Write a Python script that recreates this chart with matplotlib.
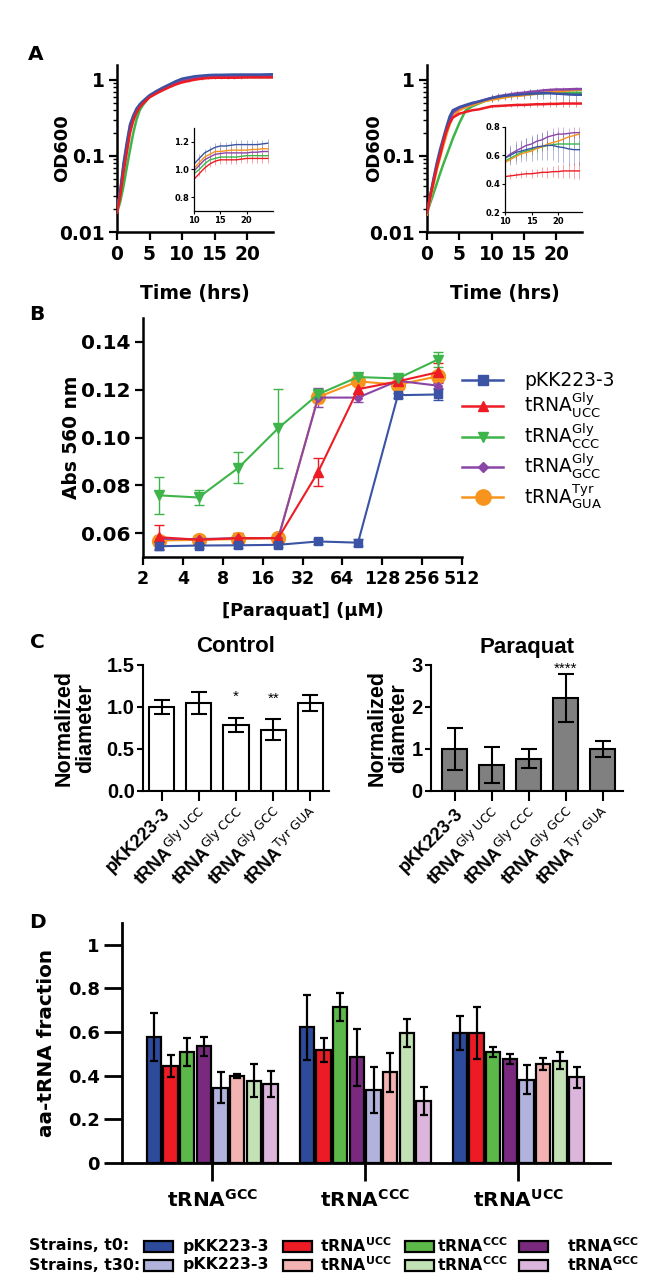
import numpy as np
import matplotlib
matplotlib.use("Agg")
import matplotlib.pyplot as plt
from matplotlib.colors import to_rgba
from matplotlib.lines import Line2D
from matplotlib.patches import Rectangle
from matplotlib.ticker import LogLocator, NullFormatter

plt.rcParams["font.family"] = ["DejaVu Sans"]
plt.rcParams["mathtext.fontset"] = "custom"
plt.rcParams["mathtext.rm"] = "DejaVu Sans"
plt.rcParams["mathtext.bf"] = "DejaVu Sans:bold"
plt.rcParams["mathtext.it"] = "DejaVu Sans:italic"

#*********************** data : panel A (growth curves) ***********************
hours = [0, 0.5, 1, 1.5, 2, 2.5, 3, 3.5, 4, 5, 6, 7, 8, 9, 10, 11, 12, 13, 14, 15,
         16, 17, 18, 19, 20, 21, 22, 23, 24]
strain_colors = ["#3a53a4", "#ed1c24", "#3db54a", "#8b45a6", "#f7941d"]

# left panel: pKK223-3, UCC, CCC, GCC, Tyr GUA
odL_pkk = [0.019, 0.035, 0.08, 0.15, 0.26, 0.34, 0.42, 0.48, 0.53, 0.63, 0.71, 0.79, 0.87, 0.96, 1.04,
           1.08, 1.12, 1.14, 1.16, 1.17, 1.17, 1.175, 1.18, 1.18, 1.18, 1.18, 1.18, 1.185, 1.19]
odL_ucc = [0.018, 0.03, 0.06, 0.11, 0.2, 0.29, 0.37, 0.44, 0.49, 0.59, 0.66, 0.73, 0.8, 0.87, 0.93,
           0.97, 1.01, 1.04, 1.06, 1.07, 1.07, 1.07, 1.07, 1.075, 1.08, 1.08, 1.08, 1.08, 1.08]
odL_ccc = [0.018, 0.025, 0.04, 0.07, 0.12, 0.2, 0.3, 0.4, 0.47, 0.6, 0.68, 0.76, 0.83, 0.9, 0.97,
           1.0, 1.04, 1.07, 1.08, 1.09, 1.09, 1.09, 1.09, 1.095, 1.1, 1.1, 1.1, 1.1, 1.1]
odL_gcc = [0.019, 0.033, 0.07, 0.13, 0.23, 0.32, 0.4, 0.46, 0.51, 0.61, 0.69, 0.77, 0.84, 0.92, 0.99,
           1.03, 1.07, 1.09, 1.11, 1.115, 1.12, 1.12, 1.12, 1.12, 1.12, 1.125, 1.125, 1.13, 1.13]
odL_gua = [0.019, 0.034, 0.075, 0.14, 0.25, 0.33, 0.41, 0.47, 0.52, 0.62, 0.7, 0.78, 0.86, 0.94, 1.01,
           1.05, 1.09, 1.11, 1.13, 1.13, 1.135, 1.14, 1.14, 1.14, 1.14, 1.145, 1.145, 1.15, 1.15]
# sd from 10 h to 24 h
sdL_pkk = [0.03, 0.03, 0.03, 0.03, 0.03, 0.03, 0.03, 0.03, 0.03, 0.03, 0.03, 0.03, 0.03, 0.03, 0.03]
sdL_ucc = [0.02, 0.02, 0.025, 0.025, 0.03, 0.03, 0.03, 0.03, 0.03, 0.03, 0.03, 0.03, 0.03, 0.03, 0.03]
sdL_ccc = [0.02, 0.02, 0.02, 0.025, 0.025, 0.025, 0.025, 0.025, 0.025, 0.025, 0.025, 0.025, 0.025, 0.025, 0.025]
sdL_gcc = [0.03, 0.03, 0.03, 0.03, 0.03, 0.03, 0.03, 0.03, 0.03, 0.03, 0.03, 0.03, 0.03, 0.03, 0.03]
sdL_gua = [0.03, 0.03, 0.03, 0.03, 0.03, 0.03, 0.03, 0.03, 0.03, 0.03, 0.03, 0.03, 0.03, 0.03, 0.03]

# right panel
odR_pkk = [0.018, 0.03, 0.05, 0.08, 0.12, 0.17, 0.24, 0.33, 0.4, 0.44, 0.47, 0.5, 0.52, 0.55, 0.58,
           0.6, 0.62, 0.63, 0.64, 0.65, 0.66, 0.665, 0.67, 0.67, 0.66, 0.655, 0.645, 0.64, 0.64]
odR_ucc = [0.018, 0.03, 0.045, 0.07, 0.1, 0.15, 0.21, 0.27, 0.32, 0.36, 0.38, 0.4, 0.41, 0.43, 0.45,
           0.455, 0.46, 0.465, 0.47, 0.47, 0.475, 0.48, 0.48, 0.485, 0.485, 0.49, 0.49, 0.49, 0.49]
odR_ccc = [0.018, 0.024, 0.032, 0.043, 0.058, 0.077, 0.1, 0.13, 0.17, 0.27, 0.4, 0.45, 0.49, 0.53, 0.56,
           0.58, 0.6, 0.62, 0.63, 0.64, 0.65, 0.66, 0.67, 0.675, 0.68, 0.68, 0.68, 0.68, 0.68]
odR_gcc = [0.018, 0.03, 0.048, 0.075, 0.11, 0.16, 0.22, 0.3, 0.37, 0.43, 0.46, 0.49, 0.52, 0.55, 0.58,
           0.61, 0.63, 0.65, 0.67, 0.68, 0.7, 0.71, 0.73, 0.74, 0.75, 0.75, 0.755, 0.76, 0.76]
odR_gua = [0.017, 0.027, 0.042, 0.065, 0.095, 0.135, 0.19, 0.26, 0.33, 0.4, 0.44, 0.47, 0.5, 0.53, 0.55,
           0.57, 0.59, 0.61, 0.62, 0.63, 0.65, 0.66, 0.68, 0.69, 0.7, 0.715, 0.73, 0.74, 0.75]
sdR_pkk = [0.07, 0.07, 0.08, 0.08, 0.08, 0.09, 0.09, 0.1, 0.1, 0.1, 0.11, 0.11, 0.11, 0.11, 0.11]
sdR_ucc = [0.02, 0.02, 0.02, 0.025, 0.025, 0.03, 0.03, 0.035, 0.04, 0.04, 0.045, 0.05, 0.05, 0.055, 0.06]
sdR_ccc = [0.03, 0.03, 0.03, 0.03, 0.03, 0.03, 0.03, 0.03, 0.03, 0.03, 0.03, 0.03, 0.03, 0.03, 0.03]
sdR_gcc = [0.05, 0.05, 0.05, 0.05, 0.05, 0.05, 0.05, 0.05, 0.05, 0.05, 0.05, 0.05, 0.04, 0.04, 0.04]
sdR_gua = [0.03, 0.03, 0.03, 0.03, 0.03, 0.03, 0.03, 0.03, 0.03, 0.03, 0.03, 0.03, 0.03, 0.03, 0.03]

#*********************** data : panel B (paraquat) ***********************
paraquat_uM = [2.625, 5.25, 10.5, 21, 42, 84, 168, 336]
legend_B = ["pKK223-3", r"tRNA$^{\mathrm{Gly}}_{\mathrm{UCC}}$", r"tRNA$^{\mathrm{Gly}}_{\mathrm{CCC}}$",
            r"tRNA$^{\mathrm{Gly}}_{\mathrm{GCC}}$", r"tRNA$^{\mathrm{Tyr}}_{\mathrm{GUA}}$"]
abs_pkk = [0.0545, 0.0548, 0.0549, 0.0551, 0.0565, 0.0560, 0.1177, 0.1180]
abs_ucc = [0.0583, 0.0572, 0.0579, 0.0579, 0.0856, 0.1202, 0.1235, 0.1273]
abs_ccc = [0.0758, 0.0749, 0.0873, 0.1039, 0.1181, 0.1253, 0.1247, 0.1326]
abs_gcc = [0.0576, 0.0575, 0.0579, 0.0579, 0.1167, 0.1167, 0.1237, 0.1217]
abs_gua = [0.0569, 0.0572, 0.0575, 0.0579, 0.1169, 0.1235, 0.1221, 0.1256]
abs_sd_pkk = [0.0015, 0.0012, 0.001, 0.001, 0.001, 0.0015, 0.001, 0.0025]
abs_sd_ucc = [0.005, 0.001, 0.002, 0.001, 0.0058, 0.003, 0.002, 0.004]
abs_sd_ccc = [0.0077, 0.003, 0.0065, 0.0165, 0.002, 0.001, 0.001, 0.003]
abs_sd_gcc = [0.001, 0.001, 0.001, 0.001, 0.004, 0.002, 0.001, 0.001]
abs_sd_gua = [0.002, 0.001, 0.0025, 0.001, 0.0025, 0.0015, 0.002, 0.002]
markers_B = ["s", "^", "v", "D", "o"]
msize_B = [6, 6.5, 6.5, 4, 10]

#*********************** data : panel C (colony diameter) ***********************
c_labels = ["pKK223-3", r"tRNA$^{\mathrm{Gly\ UCC}}$", r"tRNA$^{\mathrm{Gly\ CCC}}$",
            r"tRNA$^{\mathrm{Gly\ GCC}}$", r"tRNA$^{\mathrm{Tyr\ GUA}}$"]
ctrl_mean = [1.0, 1.05, 0.79, 0.73, 1.05]
ctrl_sd = [0.08, 0.13, 0.085, 0.125, 0.095]
ctrl_stars = ["", "", "*", "**", ""]
para_mean = [1.0, 0.62, 0.77, 2.22, 1.0]
para_sd = [0.5, 0.43, 0.22, 0.57, 0.2]
para_stars = ["", "", "", "****", ""]

#*********************** data : panel D (aa-tRNA fraction) ***********************
d_groups = [r"tRNA$^{\mathregular{GCC}}$", r"tRNA$^{\mathregular{CCC}}$", r"tRNA$^{\mathregular{UCC}}$"]
d_strains = ["pKK223-3", r"tRNA$^{\mathregular{UCC}}$", r"tRNA$^{\mathregular{CCC}}$", r"tRNA$^{\mathregular{GCC}}$"]
t0_colors = ["#2e4b9b", "#ed1c24", "#5cb848", "#7a2a7e"]
t30_colors = ["#b1b3dc", "#f4b3b3", "#c2e1b5", "#dbb5db"]
t0_pkk = [0.576, 0.622, 0.596]
t0_ucc = [0.443, 0.52, 0.596]
t0_ccc = [0.509, 0.714, 0.509]
t0_gcc = [0.535, 0.484, 0.477]
t30_pkk = [0.346, 0.336, 0.382]
t30_ucc = [0.40, 0.415, 0.455]
t30_ccc = [0.378, 0.596, 0.469]
t30_gcc = [0.362, 0.285, 0.392]
t0_pkk_sd = [0.11, 0.15, 0.077]
t0_ucc_sd = [0.05, 0.055, 0.12]
t0_ccc_sd = [0.065, 0.065, 0.023]
t0_gcc_sd = [0.043, 0.13, 0.022]
t30_pkk_sd = [0.07, 0.105, 0.067]
t30_ucc_sd = [0.01, 0.088, 0.027]
t30_ccc_sd = [0.075, 0.065, 0.039]
t30_gcc_sd = [0.06, 0.065, 0.048]

#*********************** figure ***********************
W, H = 650, 1281
fig = plt.figure(figsize=(W / 100, H / 100), dpi=100)


def px_rect(x0, y0, x1, y1):
    # pixel box (origin top left) -> figure fraction rect
    return [x0 / W, 1 - y1 / H, (x1 - x0) / W, (y1 - y0) / H]


def clean(ax, lw):
    for s in ["top", "right"]:
        ax.spines[s].set_visible(False)
    for s in ["left", "bottom"]:
        ax.spines[s].set_linewidth(lw)


def growth(main_box, inset_box, ods, sds, ilim, iticks, ixmax, lab_x):
    late = hours.index(10)
    order = [2, 4, 3, 0, 1]
    ax = fig.add_axes(px_rect(*main_box))
    for i in order:
        ax.plot(hours, ods[i], color=strain_colors[i], lw=1.8, zorder=3)
        ax.errorbar(hours[late:], ods[i][late:], yerr=sds[i], fmt="none",
                    ecolor=to_rgba(strain_colors[i], 0.5), elinewidth=0.7, zorder=2)
    ax.set_yscale("log")
    ax.set_ylim(0.01, 1.575)
    ax.set_xlim(0, 24)
    ax.set_yticks([0.01, 0.1, 1])
    ax.set_yticklabels(["0.01", "0.1", "1"])
    ax.yaxis.set_minor_locator(LogLocator(base=10, subs=np.arange(2, 10)))
    ax.yaxis.set_minor_formatter(NullFormatter())
    ax.set_xticks([0, 5, 10, 15, 20])
    clean(ax, 1.8)
    ax.tick_params(which="major", length=6, width=1.6, labelsize=13.4, pad=3)
    ax.tick_params(which="minor", length=3, width=1.0)
    for t in ax.get_xticklabels() + ax.get_yticklabels():
        t.set_fontweight("bold")
    ax.set_ylabel("OD600", fontsize=13, fontweight="bold")
    ax.yaxis.set_label_coords(lab_x, 0.5)
    ax.set_xlabel("Time (hrs)", fontsize=13.6, fontweight="bold")
    ax.xaxis.set_label_coords(0.5, -0.31)

    ins = fig.add_axes(px_rect(*inset_box))
    ins.patch.set_alpha(0)
    for i in order:
        ins.errorbar(hours[late:], ods[i][late:], yerr=sds[i], color=strain_colors[i], lw=1.0,
                     ecolor=to_rgba(strain_colors[i], 0.45), elinewidth=0.6)
    ins.set_xlim(10, ixmax)
    ins.set_ylim(*ilim)
    ins.set_yticks(iticks)
    ins.set_yticklabels(["%.1f" % v for v in iticks])
    ins.set_xticks([10, 15, 20])
    clean(ins, 0.9)
    ins.tick_params(length=2, width=0.8, labelsize=6, pad=1.5)
    for t in ins.get_xticklabels() + ins.get_yticklabels():
        t.set_fontweight("bold")


growth((117, 65, 273, 232), (194, 128, 273, 211),
       [odL_pkk, odL_ucc, odL_ccc, odL_gcc, odL_gua], [sdL_pkk, sdL_ucc, sdL_ccc, sdL_gcc, sdL_gua],
       (0.7, 1.3), [0.8, 1.0, 1.2], 25, -0.295)
growth((427, 65, 582, 232), (505, 127, 582, 212),
       [odR_pkk, odR_ucc, odR_ccc, odR_gcc, odR_gua], [sdR_pkk, sdR_ucc, sdR_ccc, sdR_gcc, sdR_gua],
       (0.2, 0.8), [0.2, 0.4, 0.6, 0.8], 24.5, -0.284)

#*********************** panel B ***********************
axB = fig.add_axes(px_rect(143, 318, 462, 557))
abs_all = [abs_pkk, abs_ucc, abs_ccc, abs_gcc, abs_gua]
abs_sd_all = [abs_sd_pkk, abs_sd_ucc, abs_sd_ccc, abs_sd_gcc, abs_sd_gua]
handles = []
for i in [4, 3, 1, 2, 0]:
    axB.errorbar(paraquat_uM, abs_all[i], yerr=abs_sd_all[i], color=strain_colors[i], lw=1.5,
                 marker=markers_B[i], ms=msize_B[i], capsize=3.5, elinewidth=1, capthick=1)
for i in range(5):
    handles.append(Line2D([], [], color=strain_colors[i], lw=1.8, marker=markers_B[i], ms=msize_B[i] + 1))
axB.set_xscale("log", base=2)
axB.set_xlim(2, 512)
axB.set_ylim(0.05, 0.15)
axB.set_xticks([2, 4, 8, 16, 32, 64, 128, 256, 512])
axB.set_xticklabels(["2", "4", "8", "16", "32", "64", "128", "256", "512"])
axB.xaxis.set_minor_locator(plt.NullLocator())
axB.set_yticks([0.06, 0.08, 0.10, 0.12, 0.14])
axB.set_yticklabels(["0.06", "0.08", "0.10", "0.12", "0.14"])
clean(axB, 1.8)
axB.tick_params(length=6, width=1.6, pad=3)
axB.tick_params(axis="y", labelsize=14.5)
axB.tick_params(axis="x", labelsize=12.5)
for t in axB.get_xticklabels() + axB.get_yticklabels():
    t.set_fontweight("bold")
axB.set_ylabel("Abs 560 nm", fontsize=13.4, fontweight="bold")
axB.yaxis.set_label_coords(-0.194, 0.5)
axB.set_xlabel("[Paraquat] (µM)", fontsize=13, fontweight="bold")
axB.xaxis.set_label_coords(0.5, -0.19)
fig.legend(handles, legend_B, loc="center left", bbox_to_anchor=(462 / W, 1 - 441 / H),
           frameon=False, fontsize=13.5, handlelength=2.2, handletextpad=1.1,
           labelspacing=0.05, borderpad=0, borderaxespad=0)

#*********************** panel C ***********************
def diameter(box, means, sds, stars, star_off, color, ymax, yticks, ylabels, title, xlim, lab_x):
    ax = fig.add_axes(px_rect(*box))
    xs = np.arange(len(means))
    ax.bar(xs, means, width=0.68, color=color, edgecolor="black", lw=1.5, zorder=2)
    ax.errorbar(xs, means, yerr=sds, fmt="none", ecolor="black", elinewidth=1.5,
                capsize=5.5, capthick=1.5, zorder=3)
    for x, m, s, st in zip(xs, means, sds, stars):
        if st:
            ax.text(x, m + s + star_off, st, ha="center", va="baseline", fontsize=11,
                    family="Liberation Sans")
    ax.set_xlim(*xlim)
    ax.set_ylim(0, ymax)
    ax.set_yticks(yticks)
    ax.set_yticklabels(ylabels, family="Liberation Sans", fontweight="bold", fontsize=14.5)
    ax.set_xticks(xs)
    ax.set_xticklabels(c_labels, rotation=45, ha="right", va="top", rotation_mode="anchor",
                       family="Liberation Sans", fontweight="bold", fontsize=13)
    clean(ax, 1.5)
    ax.tick_params(axis="x", length=7, width=1.5, pad=3)
    ax.tick_params(axis="y", length=4, width=1.5, pad=2)
    ax.set_title(title, family="Liberation Sans", fontweight="bold", fontsize=16, pad=9)
    ax.set_ylabel("Normalized\ndiameter", family="Liberation Sans", fontweight="bold",
                  fontsize=15.5, linespacing=1.0)
    ax.yaxis.set_label_coords(lab_x, 0.5)


diameter((143, 665, 329, 791), ctrl_mean, ctrl_sd, ctrl_stars, 0.2, "white", 1.5,
         [0, 0.5, 1.0, 1.5], ["0.0", "0.5", "1.0", "1.5"], "Control", (-0.5, 4.5), -0.253)
diameter((431, 665, 623, 791), para_mean, para_sd, para_stars, 0.03, "#808080", 3,
         [0, 1, 2, 3], ["0", "1", "2", "3"], "Paraquat", (-0.635, 4.55), -0.115)

#*********************** panel D ***********************
axD = fig.add_axes(px_rect(122, 923, 610, 1163))
t0_all = [t0_pkk, t0_ucc, t0_ccc, t0_gcc]
t30_all = [t30_pkk, t30_ucc, t30_ccc, t30_gcc]
t0_sd_all = [t0_pkk_sd, t0_ucc_sd, t0_ccc_sd, t0_gcc_sd]
t30_sd_all = [t30_pkk_sd, t30_ucc_sd, t30_ccc_sd, t30_gcc_sd]
bar_vals = t0_all + t30_all
bar_sds = t0_sd_all + t30_sd_all
bar_cols = t0_colors + t30_colors
gx = np.arange(len(d_groups))
slot = 0.109
for k in range(8):
    xk = gx + (k - 3.5) * slot
    axD.bar(xk, bar_vals[k], width=slot * 0.86, color=bar_cols[k], edgecolor="black", lw=1.6, zorder=2)
    axD.errorbar(xk, bar_vals[k], yerr=bar_sds[k], fmt="none", ecolor="black", elinewidth=1.6,
                 capsize=3.2, capthick=1.6, zorder=3)
axD.set_xlim(-0.59, 2.6)
axD.set_ylim(0, 1.1)
axD.set_yticks([0, 0.2, 0.4, 0.6, 0.8, 1.0])
axD.set_yticklabels(["0", "0.2", "0.4", "0.6", "0.8", "1"])
axD.set_xticks(gx)
axD.set_xticklabels(d_groups)
clean(axD, 2.0)
axD.tick_params(length=13, width=2.0)
axD.tick_params(axis="y", labelsize=13, pad=3)
axD.tick_params(axis="x", labelsize=14.5, pad=6)
for t in axD.get_xticklabels() + axD.get_yticklabels():
    t.set_fontweight("bold")
axD.set_ylabel("aa-tRNA fraction", fontsize=14.4, fontweight="bold")
axD.yaxis.set_label_coords(-0.135, 0.5)

# legend rows drawn by hand like the original
row_y = [1246, 1265]
row_names = ["Strains, t0:", "Strains, t30:"]
box_x = [144, 283, 405, 519]
text_x = [183, 320, 437, 567]
for r, (yy, name, cols) in enumerate(zip(row_y, row_names, [t0_colors, t30_colors])):
    fig.text(29 / W, 1 - yy / H, name, fontsize=11.3, fontweight="bold", ha="left", va="center")
    for bx, tx, c, lab in zip(box_x, text_x, cols, d_strains):
        fig.add_artist(Rectangle((bx / W, 1 - (yy + 5.5) / H), 29 / W, 11 / H, transform=fig.transFigure,
                                 facecolor=c, edgecolor="black", lw=1.6))
        fig.text(tx / W, 1 - yy / H, lab, fontsize=11.3, fontweight="bold", ha="left", va="center")

# panel letters
for letter, (lx, ly) in zip("ABCD", [(36, 55), (37, 314), (37, 643), (37, 922)]):
    fig.text(lx / W, 1 - ly / H, letter, fontsize=14.5, fontweight="bold", ha="center", va="center")

fig.savefig("out.png", dpi=100)
